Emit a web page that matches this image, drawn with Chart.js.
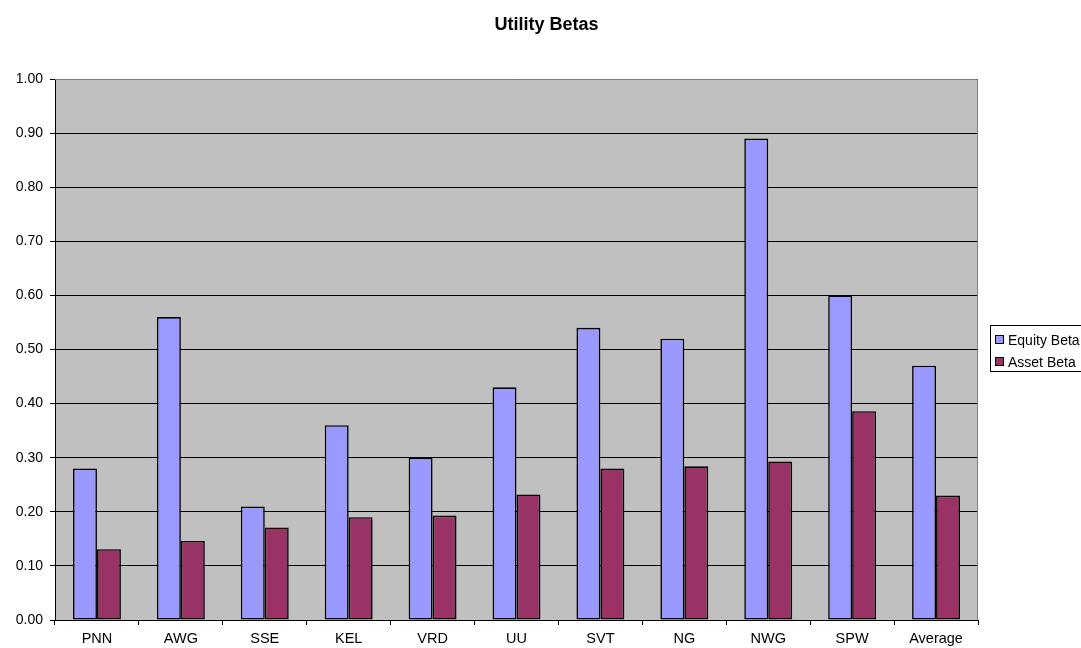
<!DOCTYPE html>
<html>
<head>
<meta charset="utf-8">
<script src="https://cdn.jsdelivr.net/npm/chart.js@4.4.1/dist/chart.umd.min.js"></script>
<style>
html,body{margin:0;padding:0;background:#fff;}
#wrap{width:1081px;height:648px;}
</style>
</head>
<body>
<div id="wrap"><canvas id="c" width="1081" height="648"></canvas></div>
<script>
const chartTitle = "Utility Betas";
const categories = ["PNN","AWG","SSE","KEL","VRD","UU","SVT","NG","NWG","SPW","Average"];
const equityBeta = [0.28,0.56,0.21,0.36,0.30,0.43,0.54,0.52,0.89,0.60,0.47];
const assetBeta  = [0.131,0.146,0.171,0.19,0.193,0.232,0.28,0.284,0.293,0.386,0.23];
const seriesNames = ["Equity Beta","Asset Beta"];
const seriesColors = ["#9999FF","#993366"];

const FONT = "'Liberation Sans', Arial, sans-serif";

const decor = {
  id: 'decor',
  beforeDraw(chart) {
    const {ctx, chartArea:a} = chart;
    ctx.save();
    ctx.fillStyle = '#C0C0C0';
    ctx.fillRect(a.left, a.top, a.right - a.left, a.bottom - a.top);
    ctx.restore();
  },
  afterDatasetsDraw(chart) {
    const {ctx, chartArea:a} = chart;
    ctx.save();
    ctx.strokeStyle = '#808080';
    ctx.lineWidth = 1;
    ctx.beginPath();
    ctx.moveTo(a.left, a.top + 0.5);
    ctx.lineTo(a.right - 0.5, a.top + 0.5);
    ctx.lineTo(a.right - 0.5, a.bottom);
    ctx.stroke();
    ctx.restore();
  },
  afterDraw(chart) {
    const ctx = chart.ctx;
    ctx.save();
    // title
    ctx.fillStyle = '#000';
    ctx.font = "bold 18px " + FONT;
    ctx.textAlign = 'center';
    ctx.textBaseline = 'middle';
    ctx.fillText(chartTitle, 546.5, 25);
    // legend
    ctx.fillStyle = '#fff';
    ctx.fillRect(990.5, 325.5, 100, 46);
    ctx.strokeStyle = '#000';
    ctx.lineWidth = 1;
    ctx.strokeRect(990.5, 325.5, 100, 46);
    ctx.font = "14px " + FONT;
    ctx.textAlign = 'left';
    const ys = [340, 362];
    for (let i = 0; i < seriesNames.length; i++) {
      ctx.fillStyle = seriesColors[i];
      ctx.fillRect(995.5, ys[i] - 4.5, 8, 8);
      ctx.strokeStyle = '#000';
      ctx.strokeRect(995.5, ys[i] - 4.5, 8, 8);
      ctx.fillStyle = '#000';
      ctx.fillText(seriesNames[i], 1008, ys[i] + 1);
    }
    ctx.restore();
  }
};

new Chart(document.getElementById('c'), {
  type: 'bar',
  data: {
    labels: categories,
    datasets: [
      {label: seriesNames[0], data: equityBeta, backgroundColor: seriesColors[0], borderColor: '#000', borderWidth: 1.6, borderSkipped: false},
      {label: seriesNames[1], data: assetBeta, backgroundColor: seriesColors[1], borderColor: '#000', borderWidth: 1.6, borderSkipped: false}
    ]
  },
  options: {
    responsive: false,
    animation: false,
    devicePixelRatio: 1,
    categoryPercentage: 0.571,
    barPercentage: 1.0,
    layout: {padding: {left: 0, right: 103, top: 79, bottom: 0}},
    plugins: {
      legend: {display: false},
      title: {display: false},
      tooltip: {enabled: false}
    },
    scales: {
      x: {
        grid: {display: true, drawOnChartArea: false, drawTicks: true, tickLength: 5, color: '#000', offset: true},
        border: {display: true, color: '#000', width: 1},
        ticks: {color: '#000', font: {family: FONT, size: 14.5}, padding: 5, maxRotation: 0, autoSkip: false},
        afterFit(s) { s.height = 28; }
      },
      y: {
        min: 0, max: 1,
        grid: {color: '#000', lineWidth: 1, tickLength: 5, drawTicks: true},
        border: {display: true, color: '#000', width: 1},
        ticks: {stepSize: 0.1, color: '#000', font: {family: FONT, size: 14}, padding: 7,
          callback: v => Number(v).toFixed(2)},
        afterFit(s) { s.width = 55; }
      }
    }
  },
  plugins: [decor]
});
</script>
</body>
</html>
